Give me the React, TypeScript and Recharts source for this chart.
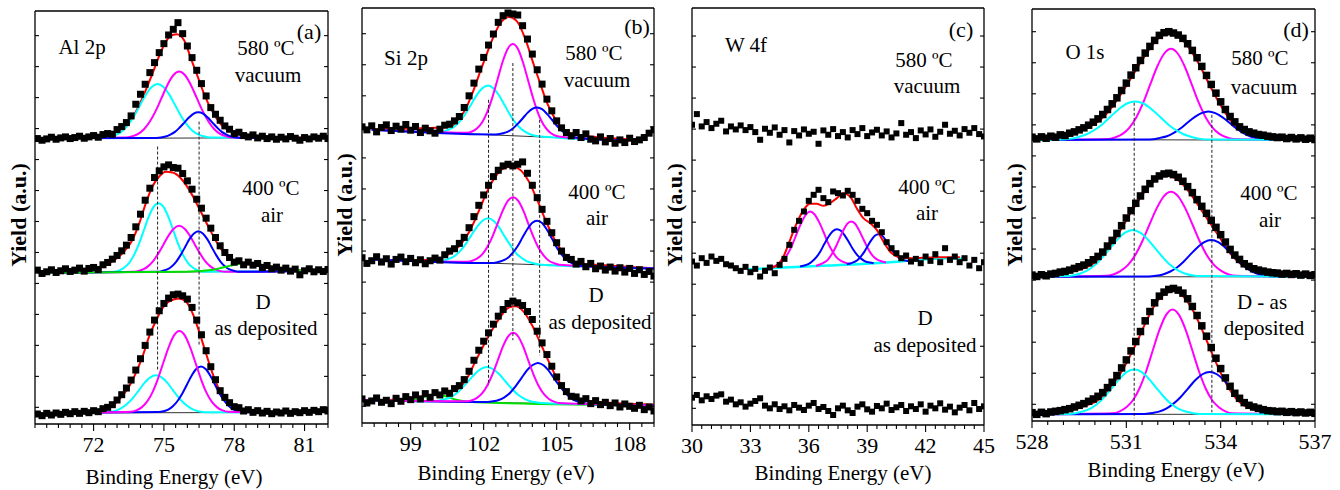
import React from 'react';
import { ComposedChart, Line, XAxis, YAxis, ReferenceLine } from 'recharts';

type Pt = [number, number];

const FONT = '"Liberation Serif", "DejaVu Serif", serif';
const RED = '#ff0000';
const CYAN = '#00ffff';
const MAGENTA = '#ff00ff';
const BLUE = '#0000ff';
const GREEN = '#00e000';
const BASE = '#333333';

const Y_TICKS = [50, 143, 236, 329, 422, 515, 608, 701, 794, 887, 980, 1073, 1166];

// ---------- (a) Al 2p ----------
const A_TICKS = [69.5, 70, 70.5, 71, 71.5, 72, 72.5, 73, 73.5, 74, 74.5, 75, 75.5, 76, 76.5, 77, 77.5, 78, 78.5, 79, 79.5, 80, 80.5, 81, 81.5, 82];
const A_MAJOR = [72, 75, 78, 81];
const A_E = [69.6, 69.8, 70.0, 70.2, 70.4, 70.6, 70.8, 71.0, 71.2, 71.4, 71.6, 71.8, 72.0, 72.2, 72.4, 72.6, 72.8, 73.0, 73.2, 73.4, 73.6, 73.8, 74.0, 74.2, 74.4, 74.6, 74.8, 75.0, 75.2, 75.4, 75.6, 75.8, 76.0, 76.2, 76.4, 76.6, 76.8, 77.0, 77.2, 77.4, 77.6, 77.8, 78.0, 78.2, 78.4, 78.6, 78.8, 79.0, 79.2, 79.4, 79.6, 79.8, 80.0, 80.2, 80.4, 80.6, 80.8, 81.0, 81.2, 81.4, 81.6, 81.8, 82.0];
const A_TOP_DATA = [857, 852, 856, 861, 855, 859, 862, 857, 860, 864, 858, 862, 866, 861, 869, 872, 870, 884, 893, 905, 925, 960, 990, 1020, 1055, 1085, 1115, 1142, 1168, 1185, 1205, 1172, 1135, 1100, 1062, 1022, 985, 950, 930, 912, 895, 885, 872, 876, 866, 862, 868, 859, 864, 857, 862, 855, 861, 856, 863, 858, 852, 860, 856, 862, 858, 864, 857];
const A_MID_DATA = [462, 452, 457, 463, 455, 460, 466, 458, 462, 468, 459, 467, 470, 464, 478, 485, 495, 506, 520, 537, 560, 592, 630, 672, 708, 740, 760, 772, 778, 770, 768, 752, 730, 705, 675, 648, 618, 588, 560, 535, 515, 500, 486, 490, 478, 486, 477, 482, 470, 476, 466, 471, 462, 468, 459, 465, 448, 460, 466, 457, 463, 458, 464];
const A_BOT_DATA = [30, 25, 32, 27, 33, 29, 35, 31, 37, 32, 38, 34, 40, 37, 46, 50, 58, 72, 88, 108, 132, 162, 196, 236, 276, 312, 340, 362, 378, 388, 390, 385, 375, 350, 312, 268, 220, 172, 133, 100, 80, 64, 52, 49, 39, 43, 35, 40, 33, 38, 31, 36, 33, 39, 32, 37, 34, 40, 35, 41, 37, 43, 39];

const A_TOP_BASE: Pt[] = [[69.6, 857], [82.0, 860]];
const A_TOP_FIT: Pt[] = [[69.8, 858], [71.5, 859], [72.3, 862], [72.67, 868], [73.24, 888], [73.66, 920], [73.95, 958], [74.23, 1003], [74.51, 1052], [74.8, 1105], [75.08, 1148], [75.37, 1168], [75.55, 1170], [75.86, 1152], [76.15, 1098], [76.43, 1045], [76.72, 990], [77.07, 938], [77.43, 900], [77.92, 877], [78.63, 865], [80.05, 860], [81.9, 860]];
const A_TOP_CYAN: Pt[] = [[69.8, 858], [72.48, 860], [72.73, 863], [72.98, 869], [73.23, 880], [73.48, 899], [73.73, 925], [73.98, 957], [74.23, 989], [74.48, 1012], [74.73, 1021], [74.98, 1012], [75.23, 989], [75.48, 957], [75.73, 925], [75.98, 899], [76.23, 880], [76.48, 869], [76.73, 863], [76.98, 860], [81.9, 859]];
const A_TOP_MAG: Pt[] = [[69.8, 858], [73.4, 860], [73.65, 864], [73.9, 871], [74.15, 885], [74.4, 908], [74.65, 940], [74.9, 979], [75.15, 1018], [75.4, 1047], [75.65, 1058], [75.9, 1047], [76.15, 1018], [76.4, 979], [76.65, 940], [76.9, 908], [77.15, 885], [77.4, 871], [77.65, 864], [77.9, 860], [81.9, 859]];
const A_TOP_BLUE: Pt[] = [[69.8, 858], [74.67, 859], [74.87, 860], [75.07, 863], [75.27, 869], [75.47, 877], [75.67, 890], [75.87, 905], [76.07, 920], [76.27, 932], [76.47, 936], [76.67, 932], [76.87, 920], [77.07, 905], [77.27, 890], [77.47, 877], [77.67, 869], [77.87, 863], [78.07, 860], [78.27, 859], [81.9, 859]];

const A_MID_BASE: Pt[] = [[69.6, 453], [82.0, 460]];
const A_MID_FIT: Pt[] = [[69.8, 456], [71.5, 461], [72.24, 468], [72.8, 488], [73.24, 513], [73.66, 553], [73.95, 603], [74.23, 663], [74.51, 713], [74.8, 743], [75.08, 757], [75.37, 755], [75.72, 738], [76.08, 703], [76.5, 648], [76.93, 588], [77.36, 533], [77.78, 498], [78.2, 483], [78.78, 481], [79.34, 473], [80.05, 465], [81.9, 460]];
const A_MID_CYAN: Pt[] = [[69.8, 454], [72.88, 457], [73.09, 461], [73.3, 469], [73.51, 483], [73.72, 507], [73.93, 540], [74.14, 581], [74.35, 622], [74.56, 652], [74.77, 663], [74.98, 652], [75.19, 622], [75.4, 581], [75.61, 540], [75.82, 507], [76.03, 483], [76.24, 469], [76.45, 461], [76.66, 457], [81.9, 460]];
const A_MID_MAG: Pt[] = [[69.8, 454], [73.67, 457], [73.89, 459], [74.11, 464], [74.33, 474], [74.55, 490], [74.77, 513], [74.99, 540], [75.21, 567], [75.43, 587], [75.65, 595], [75.87, 587], [76.09, 567], [76.31, 540], [76.53, 513], [76.75, 490], [76.97, 474], [77.19, 464], [77.41, 459], [77.63, 457], [81.9, 460]];
const A_MID_BLUE: Pt[] = [[69.8, 454], [74.76, 457], [74.95, 460], [75.14, 464], [75.33, 473], [75.52, 487], [75.71, 507], [75.9, 531], [76.09, 555], [76.28, 572], [76.47, 579], [76.66, 572], [76.85, 555], [77.04, 531], [77.23, 507], [77.42, 487], [77.61, 473], [77.8, 464], [77.99, 460], [78.18, 457], [81.9, 460]];
const A_MID_GREEN: Pt[] = [[69.8, 454], [75.9, 457], [76.2, 458], [76.5, 459], [76.8, 461], [77.1, 463], [77.4, 468], [77.7, 473], [78.0, 478], [78.3, 482], [78.6, 483], [78.9, 482], [79.2, 478], [79.5, 473], [79.8, 468], [80.1, 464], [80.4, 462], [80.7, 461], [81.0, 460], [81.3, 460], [81.9, 460]];

const A_BOT_BASE: Pt[] = [[69.6, 33], [82.0, 35]];
const A_BOT_FIT: Pt[] = [[71.2, 34], [72.0, 37], [72.67, 48], [73.09, 73], [73.52, 113], [73.8, 153], [74.09, 203], [74.37, 263], [74.66, 310], [74.94, 348], [75.22, 368], [75.65, 377], [75.94, 368], [76.22, 333], [76.5, 278], [76.79, 213], [77.07, 153], [77.36, 103], [77.78, 63], [78.35, 43], [79.34, 35], [80.9, 34]];
const A_BOT_CYAN: Pt[] = [[71.2, 34], [72.5, 35], [72.74, 37], [72.98, 41], [73.22, 49], [73.46, 62], [73.7, 80], [73.94, 102], [74.18, 124], [74.42, 140], [74.66, 146], [74.9, 140], [75.14, 124], [75.38, 102], [75.62, 80], [75.86, 62], [76.1, 49], [76.34, 41], [76.58, 37], [76.82, 35], [80.9, 34]];
const A_BOT_BLUE: Pt[] = [[71.2, 34], [74.78, 36], [74.98, 38], [75.18, 43], [75.38, 53], [75.58, 69], [75.78, 91], [75.98, 118], [76.18, 145], [76.38, 165], [76.58, 173], [76.78, 165], [76.98, 145], [77.18, 118], [77.38, 91], [77.58, 69], [77.78, 53], [77.98, 43], [78.18, 38], [78.38, 36], [80.9, 34]];
const A_BOT_MAG: Pt[] = [[71.2, 34], [73.59, 37], [73.82, 41], [74.05, 50], [74.28, 67], [74.51, 95], [74.74, 135], [74.97, 183], [75.2, 230], [75.43, 266], [75.66, 279], [75.89, 266], [76.12, 230], [76.35, 183], [76.58, 135], [76.81, 95], [77.04, 67], [77.27, 50], [77.5, 41], [77.73, 37], [80.9, 34]];

// ---------- (b) Si 2p ----------
const B_TICKS = [97, 97.5, 98, 98.5, 99, 99.5, 100, 100.5, 101, 101.5, 102, 102.5, 103, 103.5, 104, 104.5, 105, 105.5, 106, 106.5, 107, 107.5, 108, 108.5, 109];
const B_MAJOR = [99, 102, 105, 108];
const B_E = [97.0, 97.2, 97.4, 97.6, 97.8, 98.0, 98.2, 98.4, 98.6, 98.8, 99.0, 99.2, 99.4, 99.6, 99.8, 100.0, 100.2, 100.4, 100.6, 100.8, 101.0, 101.2, 101.4, 101.6, 101.8, 102.0, 102.2, 102.4, 102.6, 102.8, 103.0, 103.2, 103.4, 103.6, 103.8, 104.0, 104.2, 104.4, 104.6, 104.8, 105.0, 105.2, 105.4, 105.6, 105.8, 106.0, 106.2, 106.4, 106.6, 106.8, 107.0, 107.2, 107.4, 107.6, 107.8, 108.0, 108.2, 108.4, 108.6, 108.8, 109.0];
const B_TOP_DATA = [887, 878, 890, 872, 885, 893, 876, 889, 880, 894, 877, 888, 870, 883, 875, 868, 880, 892, 895, 905, 918, 945, 980, 1018, 1060, 1095, 1132, 1165, 1200, 1220, 1228, 1225, 1222, 1190, 1150, 1105, 1058, 1015, 970, 935, 905, 884, 870, 860, 870, 855, 866, 850, 845, 857, 842, 852, 838, 848, 840, 853, 843, 848, 855, 868, 878];
const B_MID_DATA = [495, 478, 486, 498, 482, 492, 476, 490, 497, 483, 493, 480, 489, 477, 486, 494, 488, 504, 515, 522, 538, 556, 585, 618, 652, 683, 712, 738, 757, 770, 775, 770, 775, 782, 748, 712, 675, 640, 604, 570, 540, 515, 496, 490, 476, 484, 468, 478, 462, 470, 458, 467, 455, 465, 452, 463, 448, 459, 445, 454, 440];
const B_BOT_DATA = [72, 60, 66, 75, 62, 68, 58, 74, 65, 79, 70, 84, 72, 88, 77, 91, 84, 96, 89, 103, 112, 130, 155, 188, 218, 245, 270, 296, 320, 340, 358, 365, 360, 352, 334, 310, 275, 240, 205, 170, 138, 112, 94, 80, 78, 66, 73, 58, 67, 55, 62, 52, 60, 48, 57, 50, 44, 53, 40, 48, 36];

const B_TOP_BASE: Pt[] = [[97.4, 878], [107.9, 846]];
const B_TOP_FIT: Pt[] = [[97.4, 880], [99.0, 882], [100.2, 885], [100.62, 888], [100.9, 903], [101.24, 938], [101.59, 998], [101.86, 1053], [102.14, 1108], [102.41, 1158], [102.69, 1198], [103.03, 1216], [103.37, 1203], [103.72, 1148], [104.06, 1073], [104.34, 1013], [104.61, 958], [104.96, 908], [105.3, 878], [105.71, 865], [106.4, 858], [107.9, 850]];
const B_TOP_CYAN: Pt[] = [[97.4, 878], [100.11, 872], [100.34, 873], [100.57, 879], [100.8, 888], [101.03, 904], [101.26, 927], [101.49, 955], [101.72, 983], [101.95, 1003], [102.18, 1011], [102.41, 1002], [102.64, 980], [102.87, 951], [103.1, 921], [103.33, 897], [103.56, 880], [103.79, 869], [104.02, 862], [104.25, 859], [107.9, 846]];
const B_TOP_MAG: Pt[] = [[97.4, 878], [101.31, 869], [101.52, 873], [101.73, 883], [101.94, 901], [102.15, 932], [102.36, 976], [102.57, 1029], [102.78, 1082], [102.99, 1121], [103.2, 1135], [103.41, 1120], [103.62, 1079], [103.83, 1025], [104.04, 971], [104.25, 925], [104.46, 893], [104.67, 874], [104.88, 863], [105.09, 858], [107.9, 846]];
const B_TOP_BLUE: Pt[] = [[97.4, 878], [102.4, 864], [102.6, 865], [102.8, 868], [103.0, 873], [103.2, 882], [103.4, 896], [103.6, 912], [103.8, 929], [104.0, 941], [104.2, 945], [104.4, 940], [104.6, 926], [104.8, 909], [105.0, 891], [105.2, 876], [105.4, 866], [105.6, 859], [105.8, 855], [106.0, 853], [107.9, 846]];

const B_MID_BASE: Pt[] = [[97.4, 490], [109.0, 463]];
const B_MID_FIT: Pt[] = [[97.4, 490], [98.5, 488], [99.5, 488], [100.21, 493], [100.62, 508], [101.04, 533], [101.45, 578], [101.79, 633], [102.14, 693], [102.48, 738], [102.83, 763], [103.17, 768], [103.51, 758], [103.86, 723], [104.2, 668], [104.54, 608], [104.89, 553], [105.23, 513], [105.58, 488], [105.99, 478], [106.81, 473], [109.0, 463]];
const B_MID_CYAN: Pt[] = [[97.4, 490], [100.11, 485], [100.34, 487], [100.57, 492], [100.8, 500], [101.03, 515], [101.26, 536], [101.49, 562], [101.72, 587], [101.95, 606], [102.18, 613], [102.41, 605], [102.64, 585], [102.87, 558], [103.1, 532], [103.33, 509], [103.56, 494], [103.79, 484], [104.02, 479], [104.25, 475], [109.0, 463]];
const B_MID_MAG: Pt[] = [[97.4, 490], [101.32, 483], [101.53, 486], [101.74, 493], [101.95, 506], [102.16, 529], [102.37, 560], [102.58, 599], [102.79, 637], [103.0, 666], [103.21, 676], [103.42, 665], [103.63, 636], [103.84, 596], [104.05, 557], [104.26, 524], [104.47, 501], [104.68, 486], [104.89, 479], [105.1, 474], [109.0, 463]];
const B_MID_BLUE: Pt[] = [[97.4, 490], [102.4, 479], [102.6, 482], [102.8, 487], [103.0, 495], [103.2, 510], [103.4, 530], [103.6, 556], [103.8, 581], [104.0, 600], [104.2, 606], [104.4, 599], [104.6, 579], [104.8, 553], [105.0, 526], [105.2, 505], [105.4, 489], [105.6, 480], [105.8, 474], [106.0, 471], [109.0, 463]];

const B_BOT_BASE: Pt[] = [[97.0, 68], [109.0, 53]];
const B_BOT_FIT: Pt[] = [[97.0, 68], [97.39, 68], [98.83, 73], [99.52, 80], [100.07, 86], [100.62, 93], [100.97, 103], [101.31, 133], [101.65, 183], [102.0, 233], [102.34, 278], [102.69, 318], [103.03, 346], [103.31, 350], [103.65, 333], [103.99, 293], [104.34, 238], [104.68, 183], [105.02, 133], [105.37, 98], [105.71, 78], [106.4, 65], [109.0, 55]];
const B_BOT_GREEN: Pt[] = [[97.0, 68], [98.45, 66], [98.63, 67], [98.81, 67], [98.99, 69], [99.17, 70], [99.35, 73], [99.53, 77], [99.71, 81], [99.89, 83], [100.07, 84], [100.25, 83], [100.43, 80], [100.61, 76], [100.79, 71], [100.97, 68], [101.15, 66], [101.33, 64], [101.51, 63], [101.69, 62], [109.0, 53]];
const B_BOT_CYAN: Pt[] = [[97.0, 68], [99.89, 65], [100.14, 67], [100.39, 71], [100.64, 77], [100.89, 89], [101.14, 107], [101.39, 127], [101.64, 147], [101.89, 162], [102.14, 168], [102.39, 161], [102.64, 146], [102.89, 125], [103.14, 104], [103.39, 86], [103.64, 74], [103.89, 66], [104.14, 62], [104.39, 60], [109.0, 53]];
const B_BOT_BLUE: Pt[] = [[97.0, 68], [102.16, 63], [102.39, 65], [102.62, 69], [102.85, 77], [103.08, 90], [103.31, 110], [103.54, 133], [103.77, 157], [104.0, 173], [104.23, 180], [104.46, 173], [104.69, 155], [104.92, 131], [105.15, 108], [105.38, 88], [105.61, 73], [105.84, 65], [106.07, 61], [106.3, 57], [109.0, 53]];
const B_BOT_MAG: Pt[] = [[97.0, 68], [101.32, 65], [101.53, 68], [101.74, 76], [101.95, 90], [102.16, 114], [102.37, 147], [102.58, 188], [102.79, 229], [103.0, 259], [103.21, 270], [103.42, 259], [103.63, 228], [103.84, 186], [104.05, 145], [104.26, 111], [104.47, 87], [104.68, 72], [104.89, 64], [105.1, 60], [109.0, 53]];

// ---------- (c) W 4f ----------
const C_TICKS = [30, 30.5, 31, 31.5, 32, 32.5, 33, 33.5, 34, 34.5, 35, 35.5, 36, 36.5, 37, 37.5, 38, 38.5, 39, 39.5, 40, 40.5, 41, 41.5, 42, 42.5, 43, 43.5, 44, 44.5, 45];
const C_MAJOR = [30, 33, 36, 39, 42, 45];
const C_E = [30.0, 30.25, 30.5, 30.75, 31.0, 31.25, 31.5, 31.75, 32.0, 32.25, 32.5, 32.75, 33.0, 33.25, 33.5, 33.75, 34.0, 34.25, 34.5, 34.75, 35.0, 35.25, 35.5, 35.75, 36.0, 36.25, 36.5, 36.75, 37.0, 37.25, 37.5, 37.75, 38.0, 38.25, 38.5, 38.75, 39.0, 39.25, 39.5, 39.75, 40.0, 40.25, 40.5, 40.75, 41.0, 41.25, 41.5, 41.75, 42.0, 42.25, 42.5, 42.75, 43.0, 43.25, 43.5, 43.75, 44.0, 44.25, 44.5, 44.75, 45.0];
const C_TOP_DATA = [900, 932, 895, 908, 890, 903, 912, 880, 895, 886, 898, 884, 893, 878, 855, 888, 876, 892, 870, 884, 847, 881, 868, 886, 873, 879, 843, 883, 870, 887, 866, 878, 862, 884, 872, 890, 866, 877, 885, 868, 880, 862, 874, 905, 870, 878, 860, 883, 871, 886, 864, 879, 900, 873, 882, 868, 887, 876, 890, 872, 865];
const C_MID_DATA = [490, 478, 500, 486, 505, 492, 498, 482, 478, 470, 462, 474, 458, 468, 445, 462, 472, 455, 480, 498, 540, 585, 612, 640, 672, 690, 705, 680, 668, 700, 695, 688, 702, 690, 672, 648, 635, 612, 600, 578, 548, 530, 515, 500, 508, 490, 498, 485, 505, 492, 512, 488, 530, 495, 505, 488, 500, 478, 495, 470, 488];
const C_BOT_DATA = [82, 90, 74, 86, 78, 88, 92, 70, 76, 62, 68, 55, 64, 72, 80, 58, 50, 62, 48, 56, 44, 60, 52, 45, 58, 66, 48, 54, 42, 30, 50, 58, 44, 36, 55, 62, 47, 40, 57, 50, 64, 45, 53, 60, 42, 56, 48, 62, 40, 58, 50, 65, 46, 55, 38, 52, 60, 44, 66, 48, 56];

const C_MID_CYAN: Pt[] = [[32.9, 467], [37.0, 478], [40.0, 487], [41.0, 492], [42.0, 497], [43.0, 500], [43.93, 498]];
const C_MID_M1: Pt[] = [[34.0, 472], [34.23, 476], [34.46, 482], [34.69, 494], [34.92, 513], [35.15, 540], [35.38, 574], [35.61, 605], [35.84, 630], [36.07, 640], [36.3, 631], [36.53, 608], [36.76, 578], [36.99, 545], [37.22, 520], [37.45, 501], [37.68, 491], [37.91, 486], [38.14, 483]];
const C_MID_B1: Pt[] = [[35.55, 475], [35.76, 478], [35.97, 482], [36.18, 491], [36.39, 503], [36.6, 521], [36.81, 544], [37.02, 565], [37.23, 581], [37.44, 587], [37.65, 582], [37.86, 567], [38.07, 547], [38.28, 526], [38.49, 509], [38.7, 498], [38.91, 490], [39.12, 487], [39.33, 485]];
const C_MID_M2: Pt[] = [[36.37, 477], [36.57, 481], [36.77, 487], [36.97, 495], [37.17, 511], [37.37, 532], [37.57, 558], [37.77, 583], [37.97, 603], [38.17, 610], [38.37, 604], [38.57, 585], [38.77, 561], [38.97, 537], [39.17, 516], [39.37, 502], [39.57, 494], [39.77, 490], [39.97, 487]];
const C_MID_B2: Pt[] = [[37.95, 482], [38.13, 484], [38.31, 488], [38.49, 494], [38.67, 505], [38.85, 519], [39.03, 537], [39.21, 554], [39.39, 567], [39.57, 572], [39.75, 568], [39.93, 556], [40.11, 540], [40.29, 523], [40.47, 510], [40.65, 500], [40.83, 495], [41.01, 492], [41.19, 491]];
const C_MID_FIT: Pt[] = [[34.0, 471], [34.19, 473], [34.7, 505], [35.04, 555], [35.38, 605], [35.73, 645], [36.07, 663], [36.41, 663], [36.75, 657], [37.09, 665], [37.44, 680], [37.78, 695], [38.12, 685], [38.46, 650], [38.8, 620], [39.15, 605], [39.49, 585], [39.83, 550], [40.17, 520], [40.68, 503], [41.2, 500], [42.56, 503], [43.76, 503]];

// ---------- (d) O 1s ----------
const D_TICKS = [528, 528.5, 529, 529.5, 530, 530.5, 531, 531.5, 532, 532.5, 533, 533.5, 534, 534.5, 535, 535.5, 536, 536.5, 537];
const D_MAJOR = [528, 531, 534, 537];
const D_E = [528.0, 528.15, 528.3, 528.45, 528.6, 528.75, 528.9, 529.05, 529.2, 529.35, 529.5, 529.65, 529.8, 529.95, 530.1, 530.25, 530.4, 530.55, 530.7, 530.85, 531.0, 531.15, 531.3, 531.45, 531.6, 531.75, 531.9, 532.05, 532.2, 532.35, 532.5, 532.65, 532.8, 532.95, 533.1, 533.25, 533.4, 533.55, 533.7, 533.85, 534.0, 534.15, 534.3, 534.45, 534.6, 534.75, 534.9, 535.05, 535.2, 535.35, 535.5, 535.65, 535.8, 535.95, 536.1, 536.25, 536.4, 536.55, 536.7, 536.85, 537.0];
const D_TOP_DATA = [850, 845, 851, 847, 853, 850, 857, 855, 862, 866, 872, 878, 886, 895, 905, 918, 933, 950, 968, 990, 1012, 1036, 1058, 1080, 1102, 1122, 1140, 1155, 1163, 1166, 1162, 1156, 1146, 1130, 1110, 1088, 1062, 1035, 1008, 982, 956, 933, 912, 896, 881, 873, 866, 862, 858, 856, 853, 851, 849, 850, 846, 849, 845, 848, 844, 847, 843];
const D_MID_DATA = [437, 433, 438, 435, 440, 442, 446, 448, 452, 457, 462, 467, 474, 483, 493, 506, 524, 541, 562, 585, 608, 630, 652, 674, 694, 711, 725, 734, 740, 742, 738, 730, 718, 702, 684, 663, 643, 622, 601, 580, 558, 536, 514, 497, 484, 471, 463, 456, 452, 449, 446, 444, 443, 440, 442, 439, 441, 437, 440, 436, 438];
const D_BOT_DATA = [25, 20, 26, 22, 27, 29, 31, 34, 37, 42, 47, 52, 59, 66, 74, 85, 100, 116, 136, 159, 183, 210, 238, 268, 300, 328, 354, 374, 386, 394, 397, 392, 383, 366, 343, 316, 285, 254, 220, 188, 157, 129, 104, 83, 68, 55, 47, 42, 38, 34, 31, 30, 28, 29, 26, 28, 25, 27, 24, 26, 23];

const D_TOP_BASE: Pt[] = [[528, 843], [537, 841]];
const D_TOP_FIT: Pt[] = [[528, 847], [528.58, 850], [529.11, 857], [529.64, 872], [530.17, 902], [530.6, 947], [531.02, 1007], [531.34, 1057], [531.65, 1102], [531.97, 1142], [532.34, 1159], [532.71, 1147], [533.03, 1112], [533.35, 1062], [533.67, 1002], [533.99, 947], [534.3, 902], [534.62, 872], [535.04, 857], [535.68, 849], [537, 845]];
const D_TOP_MAG: Pt[] = [[528, 842], [530.44, 845], [530.66, 850], [530.88, 860], [531.1, 879], [531.32, 910], [531.54, 954], [531.76, 1008], [531.98, 1061], [532.2, 1100], [532.42, 1115], [532.64, 1100], [532.86, 1061], [533.08, 1008], [533.3, 954], [533.52, 910], [533.74, 879], [533.96, 860], [534.18, 850], [534.4, 845], [537, 842]];
const D_TOP_BLUE: Pt[] = [[528, 842], [531.63, 843], [531.85, 844], [532.07, 848], [532.29, 853], [532.51, 863], [532.73, 877], [532.95, 894], [533.17, 910], [533.39, 922], [533.61, 927], [533.83, 922], [534.05, 910], [534.27, 894], [534.49, 877], [534.71, 863], [534.93, 853], [535.15, 848], [535.37, 844], [535.59, 843], [537, 842]];
const D_TOP_CYAN: Pt[] = [[528, 842], [528.94, 843], [529.2, 845], [529.46, 850], [529.72, 858], [529.98, 871], [530.24, 889], [530.5, 912], [530.76, 934], [531.02, 951], [531.28, 957], [531.54, 951], [531.8, 934], [532.06, 912], [532.32, 889], [532.58, 871], [532.84, 858], [533.1, 850], [533.36, 845], [533.62, 843], [537, 842]];

const D_MID_BASE: Pt[] = [[528, 432], [537, 432]];
const D_MID_FIT: Pt[] = [[528, 434], [528.58, 437], [529.11, 444], [529.64, 457], [530.17, 487], [530.6, 537], [530.91, 587], [531.23, 637], [531.54, 682], [531.86, 717], [532.29, 734], [532.71, 717], [533.03, 682], [533.35, 637], [533.67, 592], [533.99, 547], [534.3, 502], [534.62, 472], [535.04, 450], [535.68, 440], [537, 436]];
const D_MID_MAG: Pt[] = [[528, 432], [530.35, 435], [530.58, 439], [530.81, 449], [531.04, 466], [531.27, 495], [531.5, 537], [531.73, 587], [531.96, 636], [532.19, 673], [532.42, 687], [532.65, 673], [532.88, 636], [533.11, 587], [533.34, 537], [533.57, 495], [533.8, 466], [534.03, 449], [534.26, 439], [534.49, 435], [537, 432]];
const D_MID_BLUE: Pt[] = [[528, 432], [531.72, 433], [531.94, 435], [532.16, 439], [532.38, 447], [532.6, 459], [532.82, 477], [533.04, 499], [533.26, 520], [533.48, 536], [533.7, 542], [533.92, 536], [534.14, 520], [534.36, 499], [534.58, 477], [534.8, 459], [535.02, 447], [535.24, 439], [535.46, 435], [535.68, 433], [537, 432]];
const D_MID_CYAN: Pt[] = [[528, 432], [529.04, 434], [529.28, 436], [529.52, 441], [529.76, 451], [530.0, 467], [530.24, 490], [530.48, 517], [530.72, 544], [530.96, 564], [531.2, 572], [531.44, 564], [531.68, 544], [531.92, 517], [532.16, 490], [532.4, 467], [532.64, 451], [532.88, 441], [533.12, 436], [533.36, 434], [537, 432]];

const D_BOT_BASE: Pt[] = [[528, 20], [537, 20]];
const D_BOT_FIT: Pt[] = [[528, 22], [528.58, 24], [529.11, 30], [529.64, 44], [530.17, 67], [530.6, 112], [531.02, 177], [531.34, 237], [531.65, 302], [531.97, 357], [532.29, 384], [532.5, 389], [532.82, 372], [533.14, 327], [533.46, 262], [533.77, 192], [534.09, 127], [534.41, 77], [534.83, 42], [535.47, 27], [537, 22]];
const D_BOT_MAG: Pt[] = [[528, 20], [530.58, 23], [530.79, 29], [531.0, 41], [531.21, 62], [531.42, 98], [531.63, 149], [531.84, 211], [532.05, 272], [532.26, 317], [532.47, 334], [532.68, 317], [532.89, 272], [533.1, 211], [533.31, 149], [533.52, 98], [533.73, 62], [533.94, 41], [534.15, 29], [534.36, 23], [537, 20]];
const D_BOT_BLUE: Pt[] = [[528, 20], [531.58, 21], [531.81, 24], [532.04, 28], [532.27, 37], [532.5, 52], [532.73, 72], [532.96, 97], [533.19, 122], [533.42, 140], [533.65, 147], [533.88, 140], [534.11, 122], [534.34, 97], [534.57, 72], [534.8, 52], [535.03, 37], [535.26, 28], [535.49, 24], [535.72, 21], [537, 20]];
const D_BOT_CYAN: Pt[] = [[528, 20], [529.18, 21], [529.41, 24], [529.64, 29], [529.87, 38], [530.1, 53], [530.33, 75], [530.56, 101], [530.79, 127], [531.02, 147], [531.25, 154], [531.48, 147], [531.71, 127], [531.94, 101], [532.17, 75], [532.4, 53], [532.63, 38], [532.86, 29], [533.09, 24], [533.32, 21], [537, 20]];

type Curve = { pts: Pt[]; color: string; w: number };
type Dash = { e: number; from: number; to: number };
type PanelCfg = {
  left: number; top: number; w: number; h: number;
  xMin: number; xMax: number; yMax: number;
  ticks: number[]; major: number[];
  grid: number[]; spectra: number[][];
  curves: Curve[]; dashes: Dash[]; dot: number;
};

const c = (pts: Pt[], color: string, w = 2): Curve => ({ pts, color, w });

const PANELS: PanelCfg[] = [
  {
    left: 35, top: 11, w: 293, h: 413, xMin: 69.5, xMax: 82, yMax: 1240,
    ticks: A_TICKS, major: A_MAJOR, grid: A_E, spectra: [A_TOP_DATA, A_MID_DATA, A_BOT_DATA], dot: 7,
    curves: [
      c(A_TOP_BASE, BASE, 1), c(A_TOP_FIT, RED), c(A_TOP_CYAN, CYAN), c(A_TOP_MAG, MAGENTA), c(A_TOP_BLUE, BLUE),
      c(A_MID_BASE, BASE, 1), c(A_MID_FIT, RED), c(A_MID_CYAN, CYAN), c(A_MID_MAG, MAGENTA), c(A_MID_BLUE, BLUE), c(A_MID_GREEN, GREEN),
      c(A_BOT_BASE, BASE, 1), c(A_BOT_FIT, RED), c(A_BOT_CYAN, CYAN), c(A_BOT_BLUE, BLUE), c(A_BOT_MAG, MAGENTA),
    ],
    dashes: [{ e: 74.73, from: 833, to: 163 }, { e: 76.5, from: 908, to: 233 }],
  },
  {
    left: 362, top: 8, w: 292, h: 415, xMin: 97, xMax: 109, yMax: 1243,
    ticks: B_TICKS, major: B_MAJOR, grid: B_E, spectra: [B_TOP_DATA, B_MID_DATA, B_BOT_DATA], dot: 7,
    curves: [
      c(B_TOP_BASE, BASE, 1), c(B_TOP_FIT, RED), c(B_TOP_CYAN, CYAN), c(B_TOP_MAG, MAGENTA), c(B_TOP_BLUE, BLUE),
      c(B_MID_BASE, BASE, 1), c(B_MID_FIT, RED), c(B_MID_CYAN, CYAN), c(B_MID_MAG, MAGENTA), c(B_MID_BLUE, BLUE),
      c(B_BOT_BASE, BASE, 1), c(B_BOT_FIT, RED), c(B_BOT_GREEN, GREEN), c(B_BOT_CYAN, CYAN), c(B_BOT_BLUE, BLUE), c(B_BOT_MAG, MAGENTA),
    ],
    dashes: [{ e: 102.2, from: 968, to: 113 }, { e: 103.2, from: 1078, to: 248 }, { e: 104.3, from: 908, to: 203 }],
  },
  {
    left: 692, top: 8, w: 292, h: 417, xMin: 30, xMax: 45, yMax: 1250,
    ticks: C_TICKS, major: C_MAJOR, grid: C_E, spectra: [C_TOP_DATA, C_MID_DATA, C_BOT_DATA], dot: 6,
    curves: [
      c(C_MID_CYAN, CYAN, 2.5), c(C_MID_M1, MAGENTA), c(C_MID_B1, BLUE), c(C_MID_M2, MAGENTA), c(C_MID_B2, BLUE), c(C_MID_FIT, RED),
    ],
    dashes: [],
  },
  {
    left: 1032, top: 9, w: 283, h: 412, xMin: 528, xMax: 537, yMax: 1234,
    ticks: D_TICKS, major: D_MAJOR, grid: D_E, spectra: [D_TOP_DATA, D_MID_DATA, D_BOT_DATA], dot: 7.5,
    curves: [
      c(D_TOP_BASE, BASE, 1), c(D_TOP_FIT, RED), c(D_TOP_MAG, MAGENTA), c(D_TOP_BLUE, BLUE), c(D_TOP_CYAN, CYAN),
      c(D_MID_BASE, BASE, 1), c(D_MID_FIT, RED), c(D_MID_MAG, MAGENTA), c(D_MID_BLUE, BLUE), c(D_MID_CYAN, CYAN),
      c(D_BOT_BASE, BASE, 1), c(D_BOT_FIT, RED), c(D_BOT_MAG, MAGENTA), c(D_BOT_BLUE, BLUE), c(D_BOT_CYAN, CYAN),
    ],
    dashes: [{ e: 531.25, from: 953, to: 8 }, { e: 533.72, from: 917, to: 26 }],
  },
];

// space around each plot: axis strips (PAD - M) plus a little margin, wide enough for edge tick labels
const M = { top: 4, right: 20, bottom: 4, left: 20 };
const PAD = { top: 6, right: 22, bottom: 44, left: 22 };
const AXIS = { stroke: '#000', strokeWidth: 1.3 };

const bottomTick = (major: number[]) => (p: any) => {
  const v = p.payload.value;
  const big = major.includes(v);
  return (
    <g>
      <line x1={p.x} x2={p.x} y1={p.y} y2={p.y + (big ? 7 : 4)} stroke="#000" strokeWidth={1.1} />
      {big && (
        <text x={p.x} y={p.y + 28} textAnchor="middle" fontFamily={FONT} fontSize={22} fill="#000">{v}</text>
      )}
    </g>
  );
};

const topTick = (major: number[]) => (p: any) => {
  const big = major.includes(p.payload.value);
  return <line x1={p.x} x2={p.x} y1={p.y} y2={p.y + (big ? 6 : 3.5)} stroke="#000" strokeWidth={1.1} />;
};

const leftTick = (p: any) => <line x1={p.x} x2={p.x + 4} y1={p.y} y2={p.y} stroke="#000" strokeWidth={1.1} />;
const rightTick = (p: any) => <line x1={p.x} x2={p.x - 4} y1={p.y} y2={p.y} stroke="#000" strokeWidth={1.1} />;

const square = (s: number) => (p: any) => (
  <rect key={p.index} x={p.cx - s / 2} y={p.cy - s / 2} width={s} height={s} fill="#000" />
);

function Panel({ cfg }: { cfg: PanelCfg }) {
  const sets = cfg.spectra.map((vals) => vals.map((v, i) => ({ e: cfg.grid[i], v })));
  const dom: [number, number] = [cfg.xMin, cfg.xMax];
  return (
    <div style={{ position: 'absolute', left: cfg.left - PAD.left, top: cfg.top - PAD.top }}>
      <ComposedChart width={cfg.w + PAD.left + PAD.right} height={cfg.h + PAD.top + PAD.bottom} margin={M}>
        <XAxis dataKey="e" type="number" domain={dom} ticks={cfg.ticks} interval={0} allowDataOverflow
          height={PAD.bottom - M.bottom} tickSize={0} tickMargin={0} tickLine={false} axisLine={AXIS} tick={bottomTick(cfg.major)} />
        <XAxis xAxisId="top" orientation="top" type="number" domain={dom} ticks={cfg.ticks} interval={0} allowDataOverflow
          height={PAD.top - M.top} tickSize={0} tickMargin={0} tickLine={false} axisLine={AXIS} tick={topTick(cfg.major)} />
        <YAxis type="number" domain={[0, cfg.yMax]} ticks={Y_TICKS} interval={0} allowDataOverflow
          width={PAD.left - M.left} tickSize={0} tickMargin={0} tickLine={false} axisLine={AXIS} tick={leftTick} />
        <YAxis yAxisId="right" orientation="right" type="number" domain={[0, cfg.yMax]} ticks={Y_TICKS} interval={0} allowDataOverflow
          width={PAD.right - M.right} tickSize={0} tickMargin={0} tickLine={false} axisLine={AXIS} tick={rightTick} />
        {sets.map((d, i) => (
          <Line key={'s' + i} data={d} dataKey="v" stroke="none" dot={square(cfg.dot)} activeDot={false} isAnimationActive={false} />
        ))}
        {cfg.curves.map((cv, i) => (
          <Line key={'l' + i} data={cv.pts.map(([e, v]) => ({ e, v }))} dataKey="v" type="monotone"
            stroke={cv.color} strokeWidth={cv.w} dot={false} activeDot={false} isAnimationActive={false} />
        ))}
        {cfg.dashes.map((d, i) => (
          <ReferenceLine key={'d' + i} segment={[{ x: d.e, y: d.from }, { x: d.e, y: d.to }]}
            stroke="#222" strokeWidth={1} strokeDasharray="3 2" />
        ))}
      </ComposedChart>
    </div>
  );
}

function Txt({ x, y, s = 21, bold = false, rot = false, children }: any) {
  return (
    <div style={{
      position: 'absolute', left: x, top: y,
      transform: `translate(-50%, -50%)${rot ? ' rotate(-90deg)' : ''}`,
      fontFamily: FONT, fontSize: s, fontWeight: bold ? 700 : 400,
      whiteSpace: 'nowrap', lineHeight: 1, color: '#000',
    }}>{children}</div>
  );
}

export default function App() {
  return (
    <div style={{ position: 'absolute', left: 0, top: 0, width: 1340, height: 490, background: '#fff', overflow: 'hidden' }}>
      {PANELS.map((p, i) => <Panel key={i} cfg={p} />)}

      <Txt x={19} y={215} s={22} bold rot>Yield (a.u.)</Txt>
      <Txt x={345} y={205} s={22} bold rot>Yield (a.u.)</Txt>
      <Txt x={675} y={215} s={22} bold rot>Yield (a.u.)</Txt>
      <Txt x={1015} y={215} s={22} bold rot>Yield (a.u.)</Txt>

      <Txt x={174} y={477} s={21}>Binding Energy (eV)</Txt>
      <Txt x={506} y={473} s={21}>Binding Energy (eV)</Txt>
      <Txt x={843} y={473} s={21}>Binding Energy (eV)</Txt>
      <Txt x={1176} y={470} s={21}>Binding Energy (eV)</Txt>

      <Txt x={82} y={47}>Al 2p</Txt>
      <Txt x={266} y={48}>580 ºC</Txt>
      <Txt x={268} y={75}>vacuum</Txt>
      <Txt x={309} y={32} s={22}>(a)</Txt>
      <Txt x={271} y={188}>400 ºC</Txt>
      <Txt x={272} y={215}>air</Txt>
      <Txt x={263} y={302}>D</Txt>
      <Txt x={266} y={328}>as deposited</Txt>

      <Txt x={406} y={58}>Si 2p</Txt>
      <Txt x={594} y={53}>580 ºC</Txt>
      <Txt x={597} y={80}>vacuum</Txt>
      <Txt x={637} y={27} s={22}>(b)</Txt>
      <Txt x={597} y={192}>400 ºC</Txt>
      <Txt x={597} y={218}>air</Txt>
      <Txt x={596} y={295}>D</Txt>
      <Txt x={600} y={322}>as deposited</Txt>

      <Txt x={746} y={45}>W 4f</Txt>
      <Txt x={924} y={60}>580 ºC</Txt>
      <Txt x={927} y={86}>vacuum</Txt>
      <Txt x={961} y={30} s={22}>(c)</Txt>
      <Txt x={927} y={187}>400 ºC</Txt>
      <Txt x={927} y={213}>air</Txt>
      <Txt x={925} y={318}>D</Txt>
      <Txt x={925} y={345}>as deposited</Txt>

      <Txt x={1085} y={52}>O 1s</Txt>
      <Txt x={1260} y={58}>580 ºC</Txt>
      <Txt x={1264} y={87}>vacuum</Txt>
      <Txt x={1296} y={30} s={22}>(d)</Txt>
      <Txt x={1269} y={193}>400 ºC</Txt>
      <Txt x={1270} y={220}>air</Txt>
      <Txt x={1262} y={302}>D - as</Txt>
      <Txt x={1264} y={328}>deposited</Txt>
    </div>
  );
}
